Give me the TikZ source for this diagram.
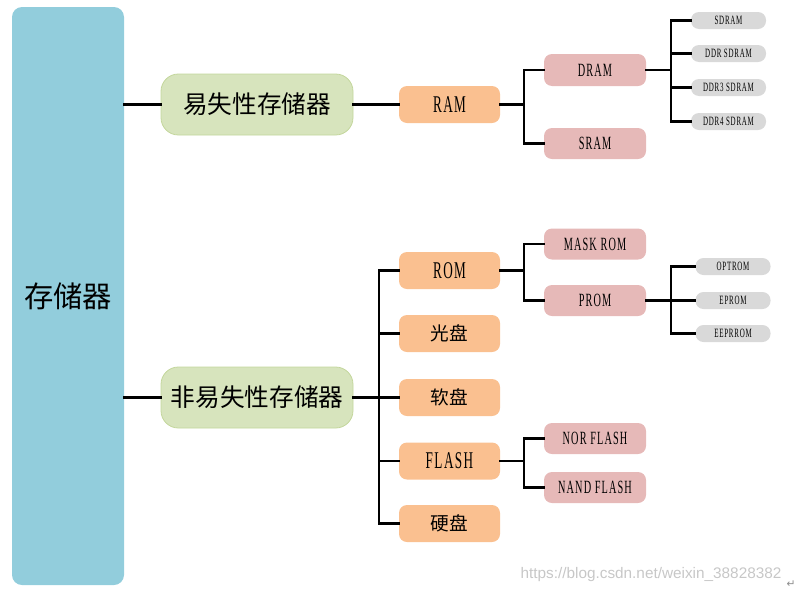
\documentclass[tikz,border=0pt]{standalone}
\usepackage{fontspec}
\setmainfont{Liberation Serif}
\newfontfamily\cjk{Noto Sans CJK SC}
\newfontfamily\narrowlat[FakeStretch=0.55,LetterSpace=6]{Liberation Serif}
\newfontfamily\urlfont{Liberation Sans}
\newfontfamily\symfont{DejaVu Sans}

\definecolor{rootblue}{HTML}{92CDDC}
\definecolor{volgreen}{HTML}{D7E4BD}
\definecolor{volgreenline}{HTML}{C3D69B}
\definecolor{typeorange}{HTML}{FAC090}
\definecolor{kindpink}{HTML}{E6B9B8}
\definecolor{leafgray}{HTML}{D9D9D9}

\tikzset{
  rootbox/.style={fill=rootblue, rounded corners=7.5pt, inner sep=0pt,
    minimum width=84pt, minimum height=433.5pt,
    font=\cjk\fontsize{22}{22}\selectfont},
  classbox/.style={fill=volgreen, draw=volgreenline, line width=0.6pt,
    rounded corners=13pt, inner sep=0pt,
    minimum width=144pt, minimum height=45.75pt,
    font=\cjk\fontsize{18.5}{18.5}\selectfont},
  typebox/.style={fill=typeorange, rounded corners=6pt, inner sep=0pt,
    minimum width=75.75pt, minimum height=27.75pt,
    font=\narrowlat\fontsize{18}{18}\selectfont},
  kindbox/.style={fill=kindpink, rounded corners=6pt, inner sep=0pt,
    minimum width=76.5pt, minimum height=23.25pt,
    font=\narrowlat\fontsize{14}{14}\selectfont},
  leafbox/.style={fill=leafgray, rounded corners=6pt, inner sep=0pt,
    minimum width=56.25pt, minimum height=12.75pt,
    font=\narrowlat\fontsize{9.5}{9.5}\selectfont},
  link/.style={line width=1.6pt, line cap=rect},
}

\begin{document}
\begin{tikzpicture}[x=0.75pt, y=-0.75pt]
\useasboundingbox (0,0) rectangle (803,593);

% Root
\node[rootbox] (store) at (68,296) {存储器};

% Volatile / non-volatile
\node[classbox] (volatile) at (257,104.5) {易失性存储器};
\node[classbox] (nonvolatile) at (257,397.5) {非易失性存储器};

% Orange level
\node[typebox] (ram) at (449.5,104.5) {RAM};
\node[typebox] (rom) at (449.5,270.5) {ROM};
\node[typebox, font=\cjk\fontsize{14}{14}\selectfont] (cd) at (449.5,333.5) {光盘};
\node[typebox, font=\cjk\fontsize{14}{14}\selectfont] (floppy) at (449.5,397.5) {软盘};
\node[typebox] (flash) at (449.5,461) {FLASH};
\node[typebox, font=\cjk\fontsize{14}{14}\selectfont] (disk) at (449.5,523.5) {硬盘};

% Pink level
\node[kindbox, minimum height=24pt] (dram) at (595,70) {DRAM};
\node[kindbox] (sram) at (595,143.5) {SRAM};
\node[kindbox] (maskrom) at (595,244) {MASK ROM};
\node[kindbox] (prom) at (595,300.5) {PROM};
\node[kindbox] (norflash) at (595,438.5) {NOR FLASH};
\node[kindbox] (nandflash) at (595,487.5) {NAND FLASH};

% Gray leaves
\node[leafbox] (sdram) at (728.5,20.5) {SDRAM};
\node[leafbox] (ddr) at (728.5,53.5) {DDR SDRAM};
\node[leafbox] (ddrthree) at (728.5,87.5) {DDR3 SDRAM};
\node[leafbox] (ddrfour) at (728.5,121.5) {DDR4 SDRAM};
\node[leafbox] (optrom) at (733,266.5) {OPTROM};
\node[leafbox] (eprom) at (733,300.5) {EPROM};
\node[leafbox] (eeprrom) at (733,333.5) {EEPRROM};

% Bus points
\coordinate (nonvolBus) at (379,397.5);
\coordinate (ramBus) at (524,104.5);
\coordinate (dramBus) at (671,70);
\coordinate (romBus) at (524,270.5);
\coordinate (promBus) at (671,300.5);
\coordinate (flashBus) at (524,461);

% Drawing root links
\draw[link] (store.east |- volatile) -- (volatile.west);
\draw[link] (store.east |- nonvolatile) -- (nonvolatile.west);

% Drawing volatile branch
\draw[link] (volatile.east) -- (ram.west);
\draw[link] (ram.east) -- (ramBus);
\draw[link] (dram.west) -| (ramBus) |- (sram.west);
\draw[link] (dram.east) -- (dramBus);
\draw[link] (sdram.west) -| (dramBus) |- (ddrfour.west);
\draw[link] (dramBus |- ddr) -- (ddr.west);
\draw[link] (dramBus |- ddrthree) -- (ddrthree.west);

% Drawing non-volatile branch
\draw[link] (nonvolatile.east) -- (nonvolBus);
\draw[link] (rom.west) -| (nonvolBus) |- (disk.west);
\draw[link] (nonvolBus |- cd) -- (cd.west);
\draw[link] (nonvolBus |- floppy) -- (floppy.west);
\draw[link] (nonvolBus |- flash) -- (flash.west);
\draw[link] (rom.east) -- (romBus);
\draw[link] (maskrom.west) -| (romBus) |- (prom.west);
\draw[link] (prom.east) -- (promBus);
\draw[link] (optrom.west) -| (promBus) |- (eeprrom.west);
\draw[link] (promBus |- eprom) -- (eprom.west);
\draw[link] (flash.east) -- (flashBus);
\draw[link] (norflash.west) -| (flashBus) |- (nandflash.west);

% Watermark
\node[text=black!22, font=\urlfont\fontsize{11.5}{11.5}\selectfont] (mark) at (651,575) {https://blog.csdn.net/weixin\_38828382};
\node[text=black!45, font=\symfont\fontsize{8}{8}\selectfont] (ret) at (791,584) {↵};
\end{tikzpicture}
\end{document}
